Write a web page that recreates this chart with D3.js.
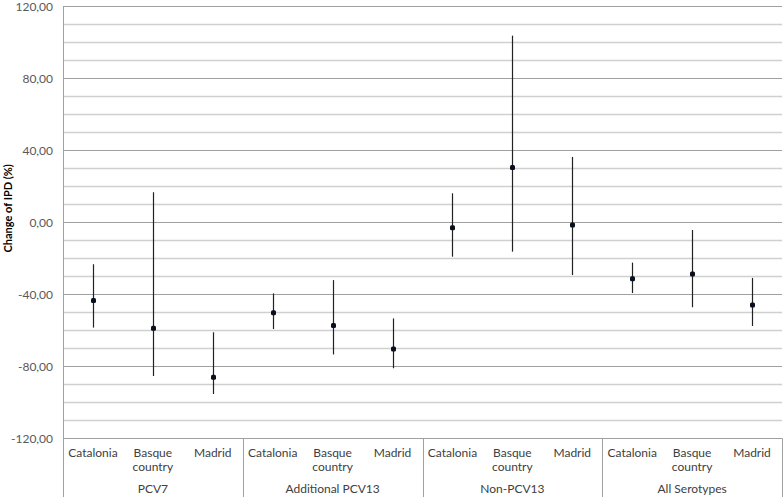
<!DOCTYPE html>
<html>
<head>
<meta charset="utf-8">
<script src="https://cdn.jsdelivr.net/npm/d3@7"></script>
<style>
  html, body { margin: 0; padding: 0; background: #fff; }
  svg { display: block; }
  text { font-family: Lato, "Open Sans", sans-serif; }
</style>
</head>
<body>
<svg id="chart" width="784" height="499"></svg>
<script>
// ---- Data ----
const groups = ["PCV7", "Additional PCV13", "Non-PCV13", "All Serotypes"];
const regions = ["Catalonia", "Basque country", "Madrid"];
// point estimates (change of IPD, %), order: group x region
const estimates = [-43.5, -58.9, -86.1,  -50.2, -57.4, -70.4,  -3.0, 30.5, -1.5,  -31.3, -28.7, -45.9];
const lower     = [-58.5, -85.4, -95.4,  -59.3, -73.4, -81.1,  -19.1, -16.3, -29.3,  -39.3, -47.2, -57.6];
const upper     = [-23.3, 16.7, -61.1,   -39.5, -32.1, -53.4,  16.1, 103.7, 36.3,   -22.4, -4.3, -30.9];
const yTicks = [-120, -80, -40, 0, 40, 80, 120];
const yMinorTicks = d3.range(-120, 121, 10);
const yTitle = "Change of IPD (%)";

// ---- Layout ----
const svg = d3.select("#chart");
const pLeft = 63, pRight = 782, pTop = 6.3, pBottom = 438.3;

const cats = [];
groups.forEach((g, gi) => regions.forEach((r, ri) => cats.push({g, r, key: gi + "|" + ri, i: gi * 3 + ri})));

const x = d3.scaleBand().domain(cats.map(c => c.key)).range([pLeft, pRight]).paddingInner(0).paddingOuter(0);
const xg = d3.scaleBand().domain(groups).range([pLeft, pRight]);
const y = d3.scaleLinear().domain([-120, 120]).range([pBottom, pTop]);

const locale = d3.formatLocale({decimal: ",", thousands: ".", grouping: [3], currency: ["", "€"], minus: "-"});
const fmt = locale.format(".2f");

// minor gridlines
svg.append("g").selectAll("line").data(yMinorTicks.filter(v => v % 40 !== 0))
  .join("line")
  .attr("x1", pLeft).attr("x2", pRight)
  .attr("y1", d => Math.round(y(d)) + 0.5).attr("y2", d => Math.round(y(d)) + 0.5)
  .attr("stroke", "#d0d0d0").attr("stroke-width", 1.3);

// major gridlines
svg.append("g").selectAll("line").data(yTicks.filter(v => v !== -120))
  .join("line")
  .attr("x1", pLeft).attr("x2", pRight)
  .attr("y1", d => Math.round(y(d)) + 0.5).attr("y2", d => Math.round(y(d)) + 0.5)
  .attr("stroke", "#a0a0a0").attr("stroke-width", 1);

// y axis
const yAxis = d3.axisLeft(y).tickValues(yTicks).tickFormat(fmt).tickSize(0).tickPadding(10);
const gy = svg.append("g").attr("transform", `translate(${pLeft},0)`).call(yAxis);
gy.select(".domain").attr("stroke", "#a0a0a0");
gy.selectAll("text").attr("fill", "#595959").attr("font-size", "12px").attr("dy", "0.36em")
  .attr("font-family", "Lato, sans-serif");

// y title
svg.append("text")
  .attr("transform", `translate(12,${(pTop + pBottom) / 2 - 14}) rotate(-90)`)
  .attr("text-anchor", "middle")
  .attr("font-size", "11px").attr("font-weight", "bold").attr("fill", "#000")
  .text(yTitle);

// x axis line
svg.append("line").attr("x1", pLeft).attr("x2", pRight)
  .attr("y1", Math.round(pBottom) + 0.5).attr("y2", Math.round(pBottom) + 0.5)
  .attr("stroke", "#a0a0a0");

// group separators
const sepXs = groups.map(g => xg(g)).concat([xg.range()[1]]);
svg.append("g").selectAll("line").data(sepXs).join("line")
  .attr("x1", d => Math.round(d) + 0.5).attr("x2", d => Math.round(d) + 0.5)
  .attr("y1", pBottom).attr("y2", 497)
  .attr("stroke", "#a0a0a0");

// category labels
const catG = svg.append("g");
cats.forEach(c => {
  const cx = x(c.key) + x.bandwidth() / 2;
  const words = c.r === "Basque country" ? ["Basque", "country"] : [c.r];
  words.forEach((w, wi) => {
    catG.append("text").attr("x", cx).attr("y", 457 + wi * 14)
      .attr("text-anchor", "middle").attr("font-size", "12px").attr("fill", "#404040")
      .text(w);
  });
});
// group labels
svg.append("g").selectAll("text").data(groups).join("text")
  .attr("x", d => xg(d) + xg.bandwidth() / 2).attr("y", 493)
  .attr("text-anchor", "middle").attr("font-size", "12px").attr("fill", "#404040")
  .text(d => d);

// error bars
const pts = cats.map(c => ({key: c.key, est: estimates[c.i], lo: lower[c.i], hi: upper[c.i]}));
svg.append("g").selectAll("line").data(pts).join("line")
  .attr("x1", d => Math.round(x(d.key) + x.bandwidth() / 2) + 0.5)
  .attr("x2", d => Math.round(x(d.key) + x.bandwidth() / 2) + 0.5)
  .attr("y1", d => y(d.hi)).attr("y2", d => y(d.lo))
  .attr("stroke", "#222").attr("stroke-width", 1.2);

// points
svg.append("g").selectAll("rect").data(pts).join("rect")
  .attr("x", d => Math.round(x(d.key) + x.bandwidth() / 2) + 0.5 - 2.5)
  .attr("y", d => y(d.est) - 2.5)
  .attr("width", 5).attr("height", 5).attr("rx", 1.5)
  .attr("fill", "#0a0f1e");
</script>
</body>
</html>
